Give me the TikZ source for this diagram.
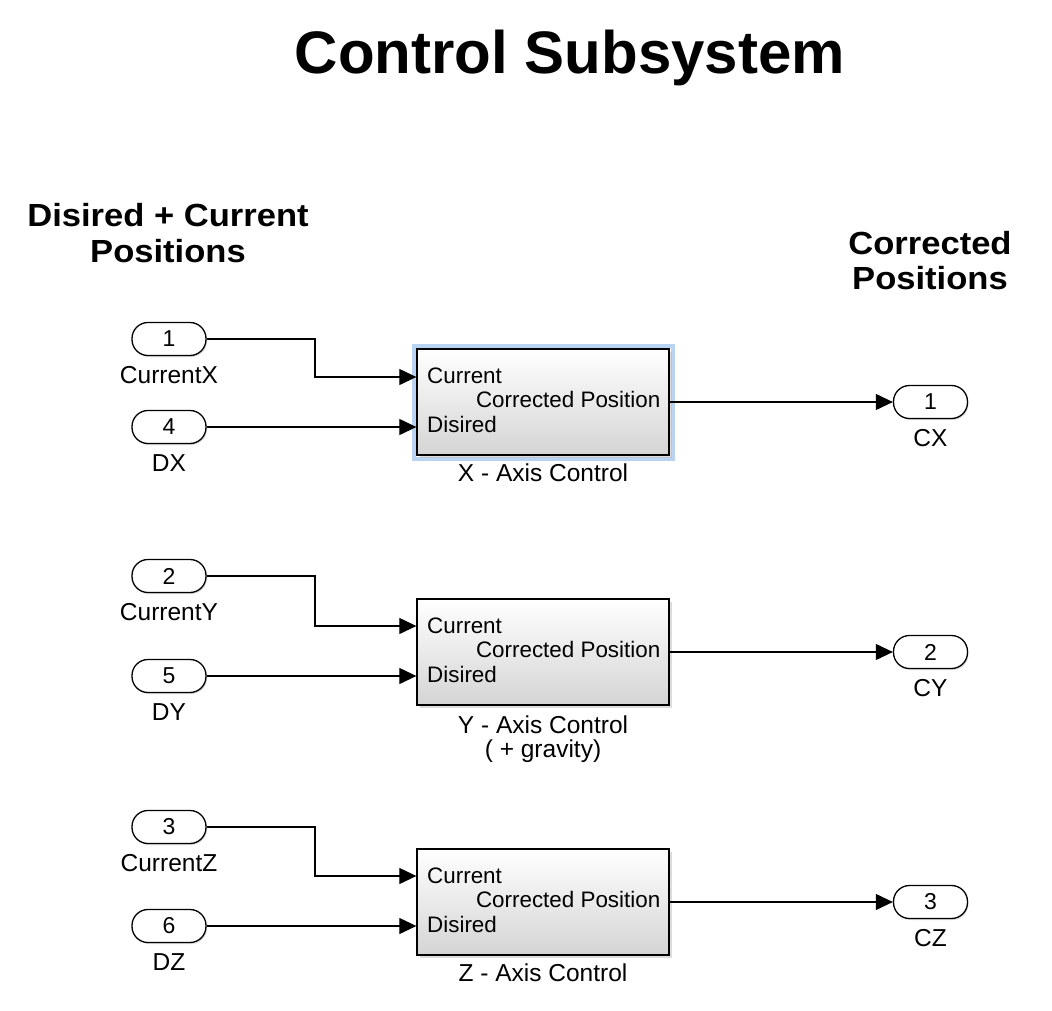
\documentclass[tikz,border=0pt]{standalone}
\usepackage{fontspec}
\usepackage{graphicx}
\setmainfont{Liberation Sans}
\usetikzlibrary{arrows.meta,shadows,calc}
\definecolor{selblue}{HTML}{B9D3F2}
\definecolor{blkbot}{HTML}{D4D4D4}
\tikzset{
  port/.style={draw, line width=1.3pt, fill=white, rounded corners=16pt,
    minimum width=74pt, minimum height=33pt, inner sep=0pt,
    font=\fontsize{23}{24}\selectfont,
    drop shadow={shadow xshift=1pt, shadow yshift=-1.5pt, fill=gray!60}},
  blk/.style={draw, line width=1.3pt, top color=white, bottom color=blkbot,
    minimum width=252pt, minimum height=106pt, inner sep=0pt,
    drop shadow={shadow xshift=2.5pt, shadow yshift=-2.5pt, fill=gray!55}},
  lbl/.style={font=\fontsize{24.5}{24}\selectfont, anchor=base, inner sep=0pt},
  ptxt/.style={font=\fontsize{22.4}{24}\selectfont, inner sep=0pt},
  head/.style={font=\fontsize{32}{36}\selectfont\bfseries, anchor=base, inner sep=0pt},
  wire/.style={line width=1.1pt, -{Triangle[length=17pt,width=16pt]}},
}
\begin{document}
\begin{tikzpicture}[x=1pt,y=-1pt]
\useasboundingbox (0,0) rectangle (1052,1010);
% title and headings
\node[font=\fontsize{60}{64}\selectfont\bfseries, anchor=base, inner sep=0pt] (title) at (570,73) {Control Subsystem};
\node[head] (h1) at (168,226) {\scalebox{1.08}[1]{Disired + Current}};
\node[head] (h2) at (168,262) {\scalebox{1.08}[1]{Positions}};
\node[head] (h3) at (930,254) {\scalebox{1.08}[1]{Corrected}};
\node[head] (h4) at (930,289) {\scalebox{1.08}[1]{Positions}};
% selection highlight of X block
\draw[selblue, line width=4pt] (413.5,345.5) rectangle (672.5,458.5);
% blocks
\node[blk] (xb) at (543,402) {};
\node[blk] (yb) at (543,652) {};
\node[blk] (zb) at (543,902) {};
% port texts
\foreach \b/\y in {xb/402, yb/652, zb/902}{
  \node[ptxt, anchor=base west] at (427,\y-19) {Current};
  \node[ptxt, anchor=base west] at (427,\y+30) {Disired};
  \node[ptxt, anchor=base east] at (660.5,\y+5) {Corrected Position};
}
\node[lbl] (xl) at (543,481) {X - Axis Control};
\node[lbl] (yl) at (543,733) {Y - Axis Control};
\node[lbl] (yl2) at (543,757) {( + gravity)};
\node[lbl] (zl) at (543,981) {Z - Axis Control};
% inports
\node[port] (in1) at (169,339) {1};
\node[port] (in4) at (169,427) {4};
\node[port] (in2) at (169,576) {2};
\node[port] (in5) at (169,676) {5};
\node[port] (in3) at (169,827) {3};
\node[port] (in6) at (169,926) {6};
\node[lbl] (l1) at (169,383) {CurrentX};
\node[lbl] (l4) at (169,471) {DX};
\node[lbl] (l2) at (169,620) {CurrentY};
\node[lbl] (l5) at (169,720) {DY};
\node[lbl] (l3) at (169,871) {CurrentZ};
\node[lbl] (l6) at (169,970) {DZ};
% outports
\node[port] (o1) at (930.5,402) {1};
\node[port] (o2) at (930.5,652) {2};
\node[port] (o3) at (930.5,902) {3};
\node[lbl] (ol1) at (930.5,446) {CX};
\node[lbl] (ol2) at (930.5,696) {CY};
\node[lbl] (ol3) at (930.5,946) {CZ};
% port coordinates
\coordinate (bx) at (315,0);
\coordinate (xcur) at ($(xb.west)+(0,-25)$);
\coordinate (xdes) at ($(xb.west)+(0,25)$);
\coordinate (ycur) at ($(yb.west)+(0,-26)$);
\coordinate (ydes) at ($(yb.west)+(0,24)$);
\coordinate (zcur) at ($(zb.west)+(0,-26)$);
\coordinate (zdes) at ($(zb.west)+(0,24)$);
% wires
\draw[wire] (in1.east) -- (in1.east -| bx) |- (xcur);
\draw[wire] (in4.east) -- (xdes);
\draw[wire] (in2.east) -- (in2.east -| bx) |- (ycur);
\draw[wire] (in5.east) -- (ydes);
\draw[wire] (in3.east) -- (in3.east -| bx) |- (zcur);
\draw[wire] (in6.east) -- (zdes);
\draw[wire] (xb.east) -- (o1.west);
\draw[wire] (yb.east) -- (o2.west);
\draw[wire] (zb.east) -- (o3.west);
\end{tikzpicture}
\end{document}
